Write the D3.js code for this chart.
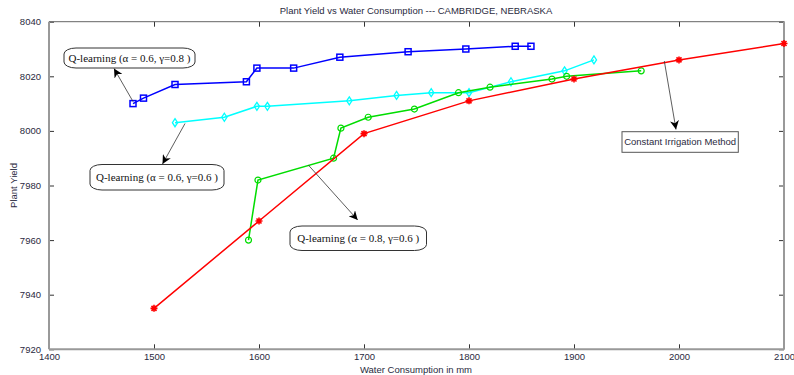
<!DOCTYPE html>
<html>
<head>
<meta charset="utf-8">
<script src="https://cdn.jsdelivr.net/npm/d3@7"></script>
<style>
  body { margin: 0; background: #fff; }
  text { font-family: "Liberation Sans", Arial, sans-serif; }
</style>
</head>
<body>
<div id="chart"></div>
<script>
// data
let xTicks = [1400, 1500, 1600, 1700, 1800, 1900, 2000, 2100];
let yTicks = [7920, 7940, 7960, 7980, 8000, 8020, 8040];

let q68_x = [1480, 1490, 1520, 1588, 1598, 1633, 1677, 1742, 1797, 1844, 1859];
let q68_y = [8010, 8012, 8017, 8018, 8023, 8023, 8027, 8029, 8030, 8031, 8031];

let q66_x = [1520, 1567, 1598, 1608, 1686, 1731, 1764, 1800, 1840, 1891, 1919];
let q66_y = [8003, 8005, 8009, 8009, 8011, 8013, 8014, 8014, 8018, 8022, 8026];

let q86_x = [1590, 1599, 1671, 1678, 1704, 1748, 1790, 1820, 1879, 1893, 1964];
let q86_y = [7960, 7982, 7990, 8001, 8005, 8008, 8014, 8016, 8019, 8020, 8022];

let cim_x = [1500, 1600, 1700, 1800, 1900, 2000, 2100];
let cim_y = [7935, 7967, 7999, 8011, 8019, 8026, 8032];

let W = 794, H = 375;
let margin = {top: 21.7, right: 10, bottom: 25.7, left: 49};
let width = W - margin.left - margin.right;
let height = H - margin.top - margin.bottom;

let svg = d3.select("#chart").append("svg")
    .attr("width", W)
    .attr("height", H);

let g = svg.append("g")
    .attr("transform", "translate(" + margin.left + "," + margin.top + ")");

let x = d3.scaleLinear().domain([1400, 2100]).range([0, width]);
let y = d3.scaleLinear().domain([7920, 8040]).range([height, 0]);

// axes, ticks pointing inward like matlab
let tickColor = "#333";
g.append("g")
    .attr("transform", "translate(0," + height + ")")
    .call(d3.axisBottom(x).tickValues(xTicks).tickSize(-5).tickPadding(4).tickFormat(d3.format("d")))
    .call(a => a.select(".domain").remove());
g.append("g")
    .call(d3.axisTop(x).tickValues(xTicks).tickSize(-5).tickFormat(""))
    .call(a => a.select(".domain").remove());
g.append("g")
    .call(d3.axisLeft(y).tickValues(yTicks).tickSize(-5).tickPadding(8).tickFormat(d3.format("d")))
    .call(a => a.select(".domain").remove());
g.append("g")
    .attr("transform", "translate(" + width + ",0)")
    .call(d3.axisRight(y).tickValues(yTicks).tickSize(-5).tickFormat(""))
    .call(a => a.select(".domain").remove());

g.selectAll(".tick line").attr("stroke", tickColor);
g.selectAll(".tick text")
    .attr("fill", "#2a2a40")
    .style("font-size", "9.5px");

// box
g.append("line").attr("x1", 0).attr("x2", width).attr("y1", 0).attr("y2", 0)
    .attr("stroke", "#666").attr("stroke-width", 1);
g.append("line").attr("x1", 0).attr("x2", 0).attr("y1", 0).attr("y2", height)
    .attr("stroke", "#999").attr("stroke-width", 2);
g.append("line").attr("x1", 0).attr("x2", width).attr("y1", height).attr("y2", height)
    .attr("stroke", "#999").attr("stroke-width", 2);
g.append("line").attr("x1", width).attr("x2", width).attr("y1", 0).attr("y2", height)
    .attr("stroke", "#999").attr("stroke-width", 2);

// titles
svg.append("text")
    .attr("x", 416).attr("y", 14)
    .attr("text-anchor", "middle")
    .attr("fill", "#2a2a40")
    .style("font-size", "9.5px")
    .text("Plant Yield vs Water Consumption --- CAMBRIDGE, NEBRASKA");
svg.append("text")
    .attr("x", 416).attr("y", 373)
    .attr("text-anchor", "middle")
    .attr("fill", "#2a2a40")
    .style("font-size", "9.5px")
    .text("Water Consumption in mm");
svg.append("text")
    .attr("transform", "translate(17," + (margin.top + height / 2) + ") rotate(-90)")
    .attr("text-anchor", "middle")
    .attr("fill", "#2a2a40")
    .style("font-size", "9.5px")
    .text("Plant Yield");

let line = d3.line().x(d => x(d[0])).y(d => y(d[1]));

function drawSeries(xs, ys, color, marker) {
    let pts = xs.map((v, i) => [v, ys[i]]);
    g.append("path")
        .datum(pts)
        .attr("d", line)
        .attr("fill", "none")
        .attr("stroke", color)
        .attr("stroke-width", 1.5);
    let m = g.append("g").selectAll("g")
        .data(pts)
        .enter().append("g")
        .attr("transform", d => "translate(" + x(d[0]) + "," + y(d[1]) + ")");
    if (marker == "square") {
        m.append("rect").attr("x", -3).attr("y", -3).attr("width", 6).attr("height", 6)
            .attr("fill", "none").attr("stroke", color).attr("stroke-width", 1.5);
    } else if (marker == "diamond") {
        m.append("path").attr("d", "M0,-4L2.6,0L0,4L-2.6,0Z")
            .attr("fill", "none").attr("stroke", color).attr("stroke-width", 1.3);
    } else if (marker == "circle") {
        m.append("circle").attr("r", 3)
            .attr("fill", "none").attr("stroke", color).attr("stroke-width", 1.2);
    } else if (marker == "star") {
        m.append("path").attr("d", "M-3.5,0L3.5,0M0,-3.5L0,3.5M-2.5,-2.5L2.5,2.5M-2.5,2.5L2.5,-2.5")
            .attr("fill", "none").attr("stroke", color).attr("stroke-width", 1.6);
    }
}

drawSeries(q68_x, q68_y, "#0000ff", "square");
drawSeries(q66_x, q66_y, "#00ffff", "diamond");
drawSeries(q86_x, q86_y, "#00dd00", "circle");
drawSeries(cim_x, cim_y, "#ff0000", "star");

// annotations (page pixels)
svg.append("defs").append("marker")
    .attr("id", "head")
    .attr("viewBox", "0 0 10 10")
    .attr("refX", 10).attr("refY", 5)
    .attr("markerWidth", 9).attr("markerHeight", 9)
    .attr("markerUnits", "userSpaceOnUse")
    .attr("orient", "auto")
  .append("path")
    .attr("d", "M0,0L10,5L0,10L3,5Z")
    .attr("fill", "#000");

let notes = [
    {text: "Q-learning (\u03b1 = 0.6, \u03b3=0.8 )", box: [64, 48, 131, 20], round: true, from: [133, 101.5], to: [114, 68.5]},
    {text: "Q-learning (\u03b1 = 0.6, \u03b3=0.6 )", box: [90, 164.5, 134, 25.5], round: true, from: [185, 123.5], to: [162.5, 164]},
    {text: "Q-learning (\u03b1 = 0.8, \u03b3=0.6 )", box: [290, 226, 136.5, 24.5], round: true, from: [308.3, 165], to: [357.7, 220]},
    {text: "Constant Irrigation Method", box: [622, 131.7, 116.3, 20.6], round: false, from: [664.3, 61], to: [676, 129.5]}
];

notes.forEach(function(n) {
    svg.append("line")
        .attr("x1", n.from[0]).attr("y1", n.from[1])
        .attr("x2", n.to[0]).attr("y2", n.to[1])
        .attr("stroke", "#333").attr("stroke-width", 0.8)
        .attr("marker-end", "url(#head)");
    svg.append("rect")
        .attr("x", n.box[0]).attr("y", n.box[1])
        .attr("width", n.box[2]).attr("height", n.box[3])
        .attr("rx", n.round ? 12 : 0).attr("ry", n.round ? 6 : 0)
        .attr("fill", "#fff")
        .attr("stroke", n.round ? "#333" : "#555")
        .attr("stroke-width", 1);
    svg.append("text")
        .attr("x", n.box[0] + n.box[2] / 2)
        .attr("y", n.box[1] + n.box[3] / 2)
        .attr("dy", "0.35em")
        .attr("text-anchor", "middle")
        .attr("fill", n.round ? "#111" : "#2a2a40")
        .style("font-family", n.round ? "'Liberation Serif', 'Times New Roman', serif" : "'Liberation Sans', Arial, sans-serif")
        .style("font-size", n.round ? "11px" : "9.5px")
        .text(n.text);
});
</script>
</body>
</html>
